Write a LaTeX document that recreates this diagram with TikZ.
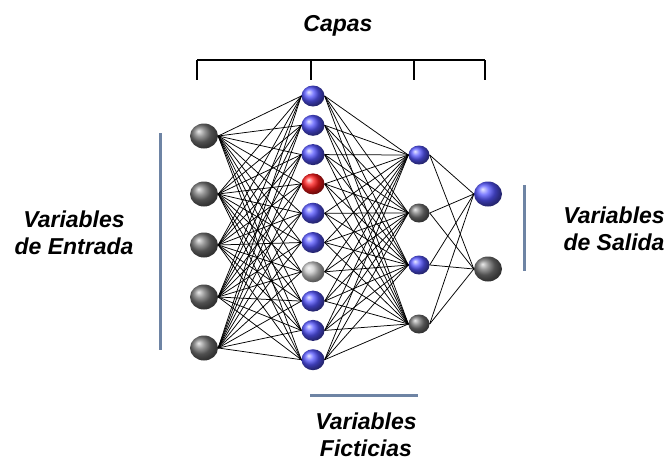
\documentclass[tikz,border=0pt]{standalone}
\usepackage{fontspec}
\setmainfont{Liberation Sans}
\usetikzlibrary{shapes.geometric}

\definecolor{barra}{RGB}{110,132,164}
\definecolor{azul}{RGB}{85,85,255}

\tikzset{
  neurona/.style={ellipse, inner sep=0pt},
  grande/.style={neurona, minimum width=28pt, minimum height=25pt},
  media/.style={neurona, minimum width=23pt, minimum height=21pt},
  chica/.style={neurona, minimum width=21pt, minimum height=19pt},
  gris/.style={ball color=black!55},
  azulb/.style={ball color=azul},
  roja/.style={ball color=red!90!white},
  clara/.style={ball color=black!22},
  conexion/.style={line width=0.75pt},
  etiqueta/.style={font=\fontsize{23}{27}\selectfont\bfseries\itshape, align=center, inner sep=0pt},
  llave/.style={line width=1.2pt},
  barrita/.style={color=barra, line width=3pt}
}

\begin{document}
\begin{tikzpicture}[x=1pt,y=-1pt]
\useasboundingbox (0,0) rectangle (669,461);

% capa de entrada
\foreach \i/\y in {1/136,2/194,3/245,4/297,5/348}
  \node[grande,gris] (e\i) at (204,\y) {};

% primera capa oculta
\foreach \i/\c in {1/azulb,2/azulb,3/azulb,4/roja,5/azulb,6/azulb,7/clara,8/azulb,9/azulb,10/azulb}
  \node[media,\c] (h\i) at (313,{96+29.3*(\i-1)}) {};

% segunda capa oculta
\foreach \i/\y/\c in {1/155/azulb,2/213/gris,3/265/azulb,4/324/gris}
  \node[chica,\c] (g\i) at (419,\y) {};

% capa de salida
\node[grande,azulb] (s1) at (488,194) {};
\node[grande,gris]  (s2) at (488,269) {};

% conexiones
\foreach \i in {1,...,5}
  \foreach \j in {1,...,10}
    \draw[conexion] (e\i.east) -- (h\j.west);
\foreach \j in {1,...,10}
  \foreach \k in {1,...,4}
    \draw[conexion] (h\j.east) -- (g\k.west);
\foreach \k in {1,...,4}
  \foreach \m in {1,2}
    \draw[conexion] (g\k.east) -- (s\m.west);

% llave de capas
\coordinate (c0) at (197,60);
\coordinate (c1) at (311,60);
\coordinate (c2) at (414,60);
\coordinate (c3) at (485,60);
\draw[llave] (c0) -- (c3);
\foreach \c in {c0,c1,c2,c3}
  \draw[llave] (\c) -- ++(0,20);
\node[etiqueta] (capas) at (338,26) {Capas};

% barras de grupos
\coordinate (be1) at (160,133);
\coordinate (be2) at (160,350);
\draw[barrita] (be1) -- (be2);
\coordinate (bs1) at (524,185);
\coordinate (bs2) at (524,271);
\draw[barrita] (bs1) -- (bs2);
\coordinate (bf1) at (310,395);
\coordinate (bf2) at (418,395);
\draw[barrita] (bf1) -- (bf2);

\node[etiqueta] (entrada) at (74,233) {Variables\\de Entrada};
\node[etiqueta] (salida) at (614,229) {Variables\\de Salida};
\node[etiqueta] (ficticias) at (366,435) {Variables\\ Ficticias};

\end{tikzpicture}
\end{document}
